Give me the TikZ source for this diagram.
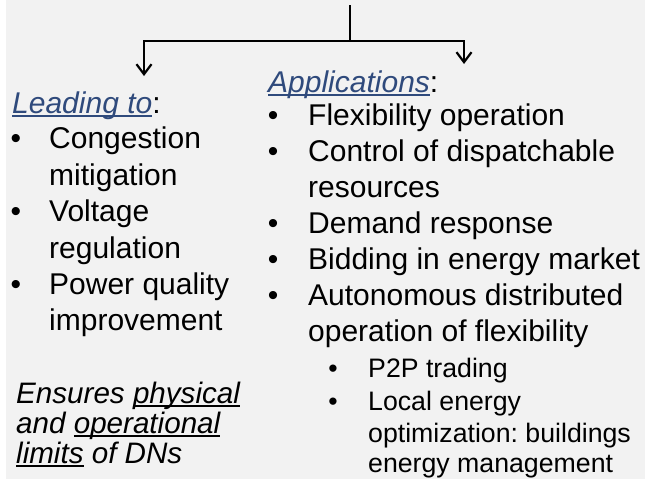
\documentclass[tikz,border=0pt]{standalone}
\usepackage{fontspec}
\setmainfont{Liberation Sans}
\usetikzlibrary{arrows.meta}
\definecolor{bg}{HTML}{F2F2F2}
\definecolor{hblue}{HTML}{2F4A7C}
\newcommand{\myul}[1]{\setbox0=\hbox{#1}\rlap{\rule[-0.12em]{\wd0}{0.06em}}\box0\relax}
\frenchspacing
\tikzset{
 main/.style={anchor=base west, inner sep=0pt, font=\fontsize{30}{36}\selectfont},
 subtext/.style={anchor=base west, inner sep=0pt, font=\fontsize{26.7}{32}\selectfont},
 bul/.style={anchor=base, inner sep=0pt, font=\fontsize{30}{36}\selectfont},
 subbul/.style={anchor=base, inner sep=0pt, font=\fontsize{26.7}{32}\selectfont},
 note/.style={anchor=base west, inner sep=0pt, font=\fontsize{29.6}{30}\selectfont\itshape},
 conn/.style={line width=2.2pt, draw=black},
 arr/.style={conn, -{Straight Barb[length=10pt,width=15pt]}},
}
\begin{document}
\begin{tikzpicture}[x=1pt,y=-1pt]
\fill[white] (0,0) rectangle (645,483);
\fill[bg] (6,0) rectangle (645,479);
\useasboundingbox (0,0) rectangle (645,483);
% connectors
\coordinate (top) at (350,5);
\coordinate (split) at (350,41);
\coordinate (ltip) at (144,76);
\coordinate (rtip) at (464,64);
\draw[conn] (top) -- (split);
\draw[arr] (split) -| (ltip);
\draw[arr] (split) -| (rtip);
% left column
\node[main] (lead) at (12,113) {{\color{hblue}\myul{\itshape Leading to}}:};
\node[bul] (lb1) at (16,148) {•};
\node[main] (l1a) at (49,148) {Congestion};
\node[main] (l1b) at (49,185) {mitigation};
\node[bul] (lb2) at (16,221) {•};
\node[main] (l2a) at (49,221) {Voltage};
\node[main] (l2b) at (49,258) {regulation};
\node[bul] (lb3) at (16,294) {•};
\node[main] (l3a) at (49,294) {Power quality};
\node[main] (l3b) at (49,330) {improvement};
\node[note] (n1) at (16,403) {Ensures \myul{physical}};
\node[note] (n2) at (16,433) {and \myul{operational}};
\node[note] (n3) at (16,463) {\myul{limits} of DNs};
% right column
\node[main] (app) at (268,92) {{\color{hblue}\myul{\itshape Applications}}:};
\node[bul] (rb1) at (273,125) {•};
\node[main] (r1) at (308,125) {Flexibility operation};
\node[bul] (rb2) at (273,161) {•};
\node[main] (r2a) at (308,161) {Control of dispatchable};
\node[main] (r2b) at (308,197) {resources};
\node[bul] (rb3) at (273,233) {•};
\node[main] (r3) at (308,233) {Demand response};
\node[bul] (rb4) at (273,269) {•};
\node[main] (r4) at (308,269) {Bidding in energy market};
\node[bul] (rb5) at (273,305) {•};
\node[main] (r5a) at (308,305) {Autonomous distributed};
\node[main] (r5b) at (308,341) {operation of flexibility};
\node[subbul] (sb1) at (333,377) {•};
\node[subtext] (s1) at (368,377) {P2P trading};
\node[subbul] (sb2) at (333,410) {•};
\node[subtext] (s2a) at (368,410) {Local energy};
\node[subtext] (s2b) at (368,442) {optimization: buildings};
\node[subtext] (s2c) at (368,472) {energy management};
\end{tikzpicture}
\end{document}
